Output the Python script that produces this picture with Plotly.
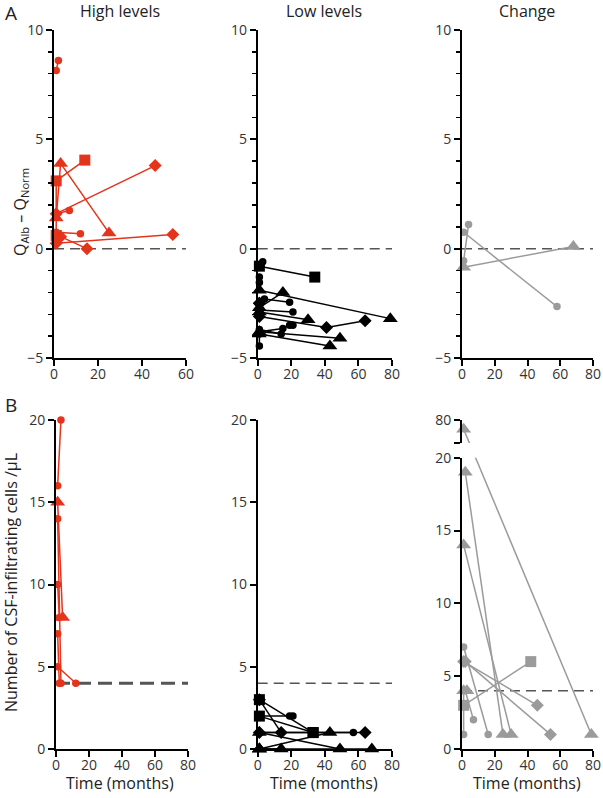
import plotly.graph_objects as go

RED = "#E4341C"
BLACK = "#000000"
GRAY = "#9B9B9B"
DASH_COLOR = "#555555"

# ---------------- Data ----------------
# Panel A: Q_Alb - Q_Norm over time (months); (symbol, x, y)
A_HIGH = [
    ("circle", [1, 2], [8.15, 8.6]),
    ("square", [1, 1, 14], [0.6, 3.1, 4.05]),
    ("triangle-up", [1, 3, 25], [1.4, 3.9, 0.72]),
    ("diamond", [1, 46], [1.6, 3.8]),
    ("circle", [1, 7], [1.6, 1.75]),
    ("circle", [1, 12], [0.75, 0.68]),
    ("diamond", [1, 54], [0.25, 0.65]),
    ("diamond", [3, 15], [0.55, 0.0]),
]
A_LOW = [
    ("square", [1, 34], [-0.8, -1.3]),
    ("circle", [1, 3], [-0.8, -0.6]),
    ("circle", [1, 1], [-1.3, -1.55]),
    ("triangle-up", [1, 79], [-1.9, -3.2]),
    ("triangle-up", [1, 15], [-2.7, -2.0]),
    ("circle", [1, 4, 19], [-2.6, -2.3, -2.45]),
    ("circle", [1, 21], [-2.8, -2.9]),
    ("triangle-up", [1, 30], [-2.9, -3.25]),
    ("diamond", [1, 41, 64], [-3.1, -3.6, -3.3]),
    ("diamond", [1, 1], [-2.5, -2.5]),
    ("circle", [1, 15, 19, 21], [-3.8, -3.65, -3.5, -3.5]),
    ("triangle-up", [1, 49], [-3.8, -4.1]),
    ("triangle-up", [1, 43], [-3.9, -4.45]),
    ("circle", [1, 14], [-3.7, -3.9]),
    ("circle", [1, 1], [-4.45, -3.9]),
]
A_CHANGE = [
    ("circle", [1, 4], [-0.55, 1.1]),
    ("circle", [1, 58], [0.75, -2.65]),
    ("triangle-up", [1, 68], [-0.85, 0.1]),
]

# Panel B: number of CSF-infiltrating cells / uL
B_HIGH = [
    ("circle", [1, 3], [16, 20]),
    ("triangle-up", [1, 4], [15, 8]),
    ("circle", [1, 3], [14, 4]),
    ("circle", [1, 2], [10, 8]),
    ("circle", [1, 2], [7, 4]),
    ("circle", [1, 12], [5, 4]),
]
B_LOW = [
    ("diamond", [1, 14], [3, 1]),
    ("square", [1, 33], [3, 1]),
    ("square", [1, 33], [2, 1]),
    ("circle", [1, 19, 21], [2, 2, 2]),
    ("triangle-up", [1, 49], [1, 0]),
    ("triangle-up", [1, 43], [0, 1]),
    ("circle", [1, 57], [1, 1]),
    ("diamond", [1, 64], [1, 1]),
    ("triangle-up", [1, 68], [0, 0]),
    ("triangle-up", [1, 14], [0, 0]),
]
B_CHANGE = [
    ("triangle-up", [2, 25], [19, 1]),
    ("triangle-up", [1, 30], [14, 1]),
    ("diamond", [1, 46], [6, 3]),
    ("diamond", [2, 54], [6, 1]),
    ("square", [1, 42], [3, 6]),
    ("circle", [2, 7], [4, 2]),
    ("circle", [1, 16], [7, 1]),
    ("circle", [1, 1], [1, 4]),
    ("triangle-up", [1, 3], [4, 4]),
]
# patient whose first value lies on the upper (broken) segment
B_CHANGE_BROKEN = ("triangle-up", [1, 79], [78, 1])

A_REF = 0   # Q_Alb - Q_Norm reference
B_REF = 4   # upper normal limit of cells / uL

X_TICKS = [0, 20, 40, 60, 80]
A_YTICKS = [-5, 0, 5, 10]
B_YTICKS = [0, 5, 10, 15, 20]

# ---------------- Layout geometry ----------------
W, H = 603, 798
def px(x):
    return x / W
def py(y):
    return 1 - y / H

COLS_A = [(54, 186), (257.7, 392), (462, 593)]
COLS_B = [(56, 188), (257.7, 392), (462, 593)]
ROW_A = (py(358), py(30))
ROW_B = (py(749), py(420))
B3_LOW = (py(749), py(457.7))
B3_UP = (py(443), py(420))
B3_LOW_RANGE = [0, 20]
B3_UP_RANGE = [75, 80]

SIZES = {"circle": 7.5, "square": 11, "triangle-up": 13, "diamond": 10}

fig = go.Figure()

def add_series(series, color, xa, ya):
    for sym, xs, ys in series:
        fig.add_trace(go.Scatter(
            x=xs, y=ys, mode="lines+markers", xaxis=xa, yaxis=ya,
            line=dict(color=color, width=1.5),
            marker=dict(symbol=sym, size=SIZES[sym], color=color, line=dict(width=0)),
            cliponaxis=False, showlegend=False, hoverinfo="skip"))

def add_ref(y, xmax, xa, ya, width=1.5, dash="10px,6px"):
    fig.add_trace(go.Scatter(
        x=[0, xmax], y=[y, y], mode="lines", xaxis=xa, yaxis=ya,
        line=dict(color=DASH_COLOR, width=width, dash=dash),
        showlegend=False, hoverinfo="skip"))

# references first (behind data)
add_ref(A_REF, 60, "x", "y")
add_ref(A_REF, 80, "x2", "y2")
add_ref(A_REF, 80, "x3", "y3")
add_ref(B_REF, 80, "x4", "y4", width=3, dash="14px,7px")
add_ref(B_REF, 80, "x5", "y5")
add_ref(B_REF, 80, "x6", "y6")

add_series(A_HIGH, RED, "x", "y")
add_series(A_LOW, BLACK, "x2", "y2")
add_series(A_CHANGE, GRAY, "x3", "y3")
add_series(B_HIGH, RED, "x4", "y4")
add_series(B_LOW, BLACK, "x5", "y5")
add_series(B_CHANGE, GRAY, "x6", "y6")

# broken-axis series: same straight segment drawn on both axis pieces
def low_to_paper(v):
    r0, r1 = B3_LOW_RANGE
    return B3_LOW[0] + (v - r0) / (r1 - r0) * (B3_LOW[1] - B3_LOW[0])
def up_to_paper(v):
    r0, r1 = B3_UP_RANGE
    return B3_UP[0] + (v - r0) / (r1 - r0) * (B3_UP[1] - B3_UP[0])
def paper_to_low(p):
    r0, r1 = B3_LOW_RANGE
    return r0 + (p - B3_LOW[0]) / (B3_LOW[1] - B3_LOW[0]) * (r1 - r0)
def paper_to_up(p):
    r0, r1 = B3_UP_RANGE
    return r0 + (p - B3_UP[0]) / (B3_UP[1] - B3_UP[0]) * (r1 - r0)

sym, bx, by = B_CHANGE_BROKEN
fig.add_trace(go.Scatter(
    x=bx, y=[by[0], paper_to_up(low_to_paper(by[1]))], mode="lines", xaxis="x7", yaxis="y7",
    line=dict(color=GRAY, width=1.5), showlegend=False, hoverinfo="skip"))
fig.add_trace(go.Scatter(
    x=[bx[0]], y=[by[0]], mode="markers", xaxis="x7", yaxis="y7",
    marker=dict(symbol=sym, size=SIZES[sym], color=GRAY), cliponaxis=False,
    showlegend=False, hoverinfo="skip"))
fig.add_trace(go.Scatter(
    x=bx, y=[paper_to_low(up_to_paper(by[0])), by[1]], mode="lines", xaxis="x6", yaxis="y6",
    line=dict(color=GRAY, width=1.5), showlegend=False, hoverinfo="skip"))
fig.add_trace(go.Scatter(
    x=[bx[1]], y=[by[1]], mode="markers", xaxis="x6", yaxis="y6",
    marker=dict(symbol=sym, size=SIZES[sym], color=GRAY), cliponaxis=False,
    showlegend=False, hoverinfo="skip"))

TICKFONT = dict(family="Open Sans", size=14, color="#333333")

def xaxis(dom, rng, anchor, visible=True):
    return dict(domain=[px(dom[0]), px(dom[1])], range=rng, anchor=anchor, automargin=False,
                showgrid=False, zeroline=False, showline=True, linecolor="black", linewidth=2,
                ticks="outside", ticklen=6, tickwidth=2, tickcolor="black",
                ticklabelstandoff=-4,
                tickvals=[t for t in X_TICKS if t <= rng[1]], tickfont=TICKFONT,
                visible=visible, fixedrange=True)

def yaxis(dom, rng, anchor, tickvals, minor=None, minor_vals=None):
    d = dict(domain=list(dom), range=rng, anchor=anchor, automargin=False,
             showgrid=False, zeroline=False, showline=True, linecolor="black", linewidth=2,
             ticks="outside", ticklen=6, tickwidth=2, tickcolor="black",
             tickvals=tickvals, tickfont=TICKFONT, fixedrange=True)
    if minor:
        d["minor"] = dict(dtick=minor, ticks="outside", ticklen=4, tickwidth=1.5,
                          tickcolor="black", showgrid=False)
    if minor_vals:
        d["minor"] = dict(tickvals=minor_vals, ticks="outside", ticklen=6, tickwidth=2,
                          tickcolor="black", showgrid=False)
    return d

layout = dict(
    template="none",
    width=W, height=H, margin=dict(l=0, r=0, t=0, b=0, autoexpand=False),
    paper_bgcolor="white", plot_bgcolor="rgba(0,0,0,0)",
    font=dict(family="Open Sans", color="#222222"),
    showlegend=False,
    xaxis=xaxis(COLS_A[0], [0, 60], "y"),
    yaxis=yaxis(ROW_A, [-5, 10], "x", A_YTICKS, minor=1),
    xaxis2=xaxis(COLS_A[1], [0, 80], "y2"),
    yaxis2=yaxis(ROW_A, [-5, 10], "x2", A_YTICKS, minor=1),
    xaxis3=xaxis(COLS_A[2], [0, 80], "y3"),
    yaxis3=yaxis(ROW_A, [-5, 10], "x3", A_YTICKS, minor=1),
    xaxis4=xaxis(COLS_B[0], [0, 80], "y4"),
    yaxis4=yaxis(ROW_B, [0, 20], "x4", B_YTICKS),
    xaxis5=xaxis(COLS_B[1], [0, 80], "y5"),
    yaxis5=yaxis(ROW_B, [0, 20], "x5", B_YTICKS),
    xaxis6=xaxis(COLS_B[2], [0, 80], "y6"),
    yaxis6=yaxis(B3_LOW, B3_LOW_RANGE, "x6", B_YTICKS),
    xaxis7=xaxis(COLS_B[2], [0, 80], "y7", visible=False),
    yaxis7=yaxis(B3_UP, B3_UP_RANGE, "x7", [B3_UP_RANGE[1]], minor_vals=[B3_UP_RANGE[0]]),
)
fig.update_layout(**layout)

ann = []
def text(x, y, s, size=16, angle=0, xanchor="center"):
    ann.append(dict(x=px(x), y=py(y), xref="paper", yref="paper", text=s, showarrow=False,
                    textangle=angle, xanchor=xanchor, yanchor="middle",
                    font=dict(family="Open Sans", size=size, color="#222222")))

text(3, 13, "A", size=19, xanchor="left")
text(3, 405, "B", size=19, xanchor="left")
text(120, 11, "High levels")
text(324, 11, "Low levels")
text(527, 11, "Change")
text(20, 212, "Q<sub>Alb</sub> – Q<sub>Norm</sub>", angle=-90)
text(11, 583, "Number of CSF-infiltrating cells /µL", angle=-90)
text(120, 783, "Time (months)")
text(324, 783, "Time (months)")
text(527, 783, "Time (months)")
fig.update_layout(annotations=ann)

fig.write_html("out.html", config={"displayModeBar": False, "staticPlot": True},
               post_script="document.body.style.margin='0';document.body.style.overflow='hidden';")
